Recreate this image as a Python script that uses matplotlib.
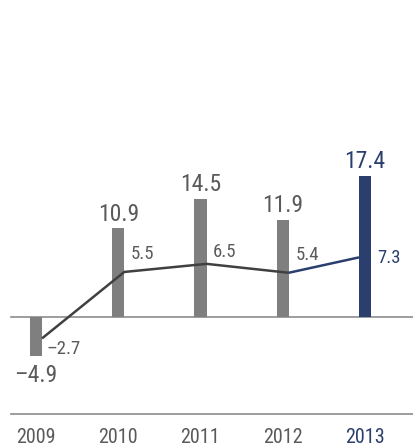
import matplotlib
matplotlib.use("Agg")
import matplotlib.pyplot as plt

# values in EUR bn: bars = total, line = second series
years = ["2009", "2010", "2011", "2012", "2013"]
bar_values = [-4.9, 10.9, 14.5, 11.9, 17.4]
line_values = [-2.7, 5.5, 6.5, 5.4, 7.3]

GRAY = "#7f7f7f"
NAVY = "#2b3f6e"
TEXT = "#5a5a5a"
LINE = "#404040"
AXIS = "#8c8c8c"

plt.rcParams["font.family"] = ["Roboto Condensed", "DejaVu Sans"]
plt.rcParams["font.weight"] = "normal"


def fmt(v):
    s = f"{abs(v):.1f}"
    return ("\u2013" + s) if v < 0 else s


fig = plt.figure(figsize=(4.13, 4.48), dpi=100)
ax = fig.add_axes([0, 0, 1, 1])
ax.set_xlim(-0.438, 4.584)
ax.set_ylim(-16.23, 39.07)
ax.axis("off")

w = 0.146
xs = list(range(len(years)))
colors = [GRAY] * (len(years) - 1) + [NAVY]

ax.axhline(0, xmin=11 / 413, xmax=1, color=AXIS, linewidth=1.2, zorder=1)
ax.axhline(-12.07, xmin=11 / 413, xmax=1, color=AXIS, linewidth=1.2, zorder=1)

ax.bar(xs, bar_values, width=w, color=colors, zorder=2)

# line joins the right edge of each bar, last point sits on the left edge of the final bar
lx = [x + w / 2 for x in xs[:-1]] + [xs[-1] - w / 2]
ax.plot(lx[:-1], line_values[:-1], color=LINE, linewidth=1.8, zorder=3, solid_capstyle="butt")
ax.plot(lx[-2:], line_values[-2:], color=NAVY, linewidth=1.8, zorder=3, solid_capstyle="butt")

# bar totals
for x, v, c in zip(xs, bar_values, colors):
    off = 5.5 if v >= 0 else -18.5
    ax.annotate(fmt(v), (x, v), xytext=(0, off), textcoords="offset points",
                ha="center", va="baseline", fontsize=17, color=TEXT if c == GRAY else c)

# line labels
line_offsets = [(3.5, -11.5), (4.3, 9.4), (4.3, 5.0), (5.0, 9.4), (13.0, -4.3)]
line_colors = [TEXT] * (len(years) - 1) + [NAVY]
for x, v, (dx, dy), c in zip(lx, line_values, line_offsets, line_colors):
    ax.annotate(fmt(v), (x, v), xytext=(dx, dy), textcoords="offset points",
                ha="left", va="baseline", fontsize=13.5, color=c)

# year labels under the bottom rule
for x, yr, c in zip(xs, years, line_colors):
    ax.annotate(yr, (x, -12.07), xytext=(0, -21), textcoords="offset points",
                ha="center", va="baseline", fontsize=14.5, color=c)

fig.savefig("out.png", dpi=100, facecolor="white")
